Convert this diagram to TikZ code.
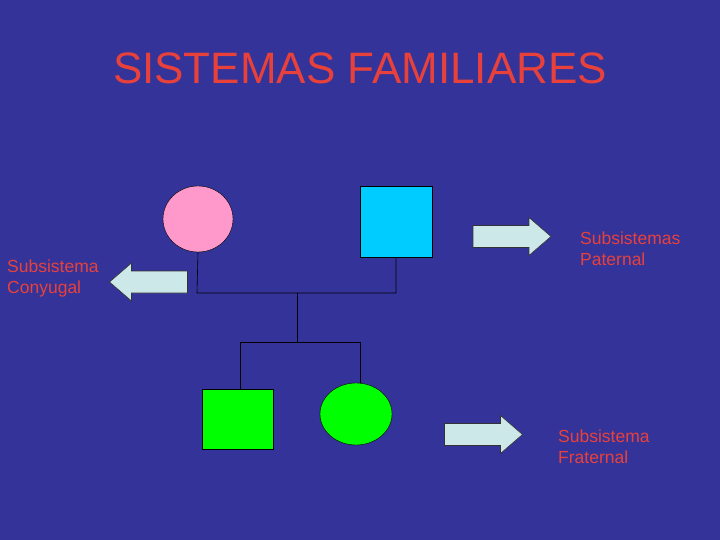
\documentclass[tikz,border=0pt]{standalone}
\usepackage{fontspec}
\setmainfont{Liberation Sans}
\usetikzlibrary{shapes.geometric}
\definecolor{bg}{HTML}{333399}
\definecolor{tred}{HTML}{E8413C}
\definecolor{arr}{HTML}{CCE8E8}
\begin{document}
\begin{tikzpicture}[x=1pt,y=-1pt,
  lbl/.style={text=tred,font=\fontsize{17.5}{21}\selectfont,align=left,anchor=north west,inner sep=0pt},
  fat/.style={draw=black!80,fill=arr,line width=0.6pt,line join=miter},
  ln/.style={draw=black,line width=0.6pt},
  pics/bigarrow/.style={code={\path[fat] (-39,-11) -- (17,-11) -- (17,-19) -- (39,0) -- (17,19) -- (17,11) -- (-39,11) -- cycle;}}]
\fill[bg] (0,0) rectangle (720,540);
\useasboundingbox (0,0) rectangle (720,540);
\node[text=tred,font=\fontsize{44}{48}\selectfont] (title) at (360,68) {SISTEMAS FAMILIARES};
\node[ellipse,draw,fill={rgb,255:red,255;green,153;blue,204},minimum width=70pt,minimum height=66pt,inner sep=0pt] (mom) at (198,219) {};
\node[draw,fill={rgb,255:red,0;green,204;blue,255},minimum width=72pt,minimum height=71pt,inner sep=0pt] (dad) at (396,221.5) {};
\node[draw,fill={rgb,255:red,0;green,255;blue,0},minimum width=71pt,minimum height=60pt,inner sep=0pt] (son) at (237.5,419) {};
\node[ellipse,draw,fill={rgb,255:red,0;green,255;blue,0},minimum width=72pt,minimum height=62pt,inner sep=0pt] (dau) at (356,414) {};
\coordinate (a) at (197,293); \coordinate (b) at (396,293);
\coordinate (c) at (297,293); \coordinate (d) at (297,342);
\coordinate (e) at (240,342); \coordinate (f) at (360,342);
\draw[ln] (mom.south) -- (a) -- (b) -- (dad.south);
\draw[ln] (c) -- (d);
\draw[ln] (e) -- (f);
\draw[ln] (e) -- (son.north -| e);
\draw[ln] (f) -- (dau.north -| f);
\pic[xscale=-1] at (148.5,282) {bigarrow};
\pic at (512,236.5) {bigarrow};
\pic at (483.5,434.5) {bigarrow};
\node[lbl] (t1) at (7,260) {Subsistema\\Conyugal};
\node[lbl] (t2) at (580,232) {Subsistemas\\Paternal};
\node[lbl] (t3) at (558,430) {Subsistema\\Fraternal};
\end{tikzpicture}
\end{document}
